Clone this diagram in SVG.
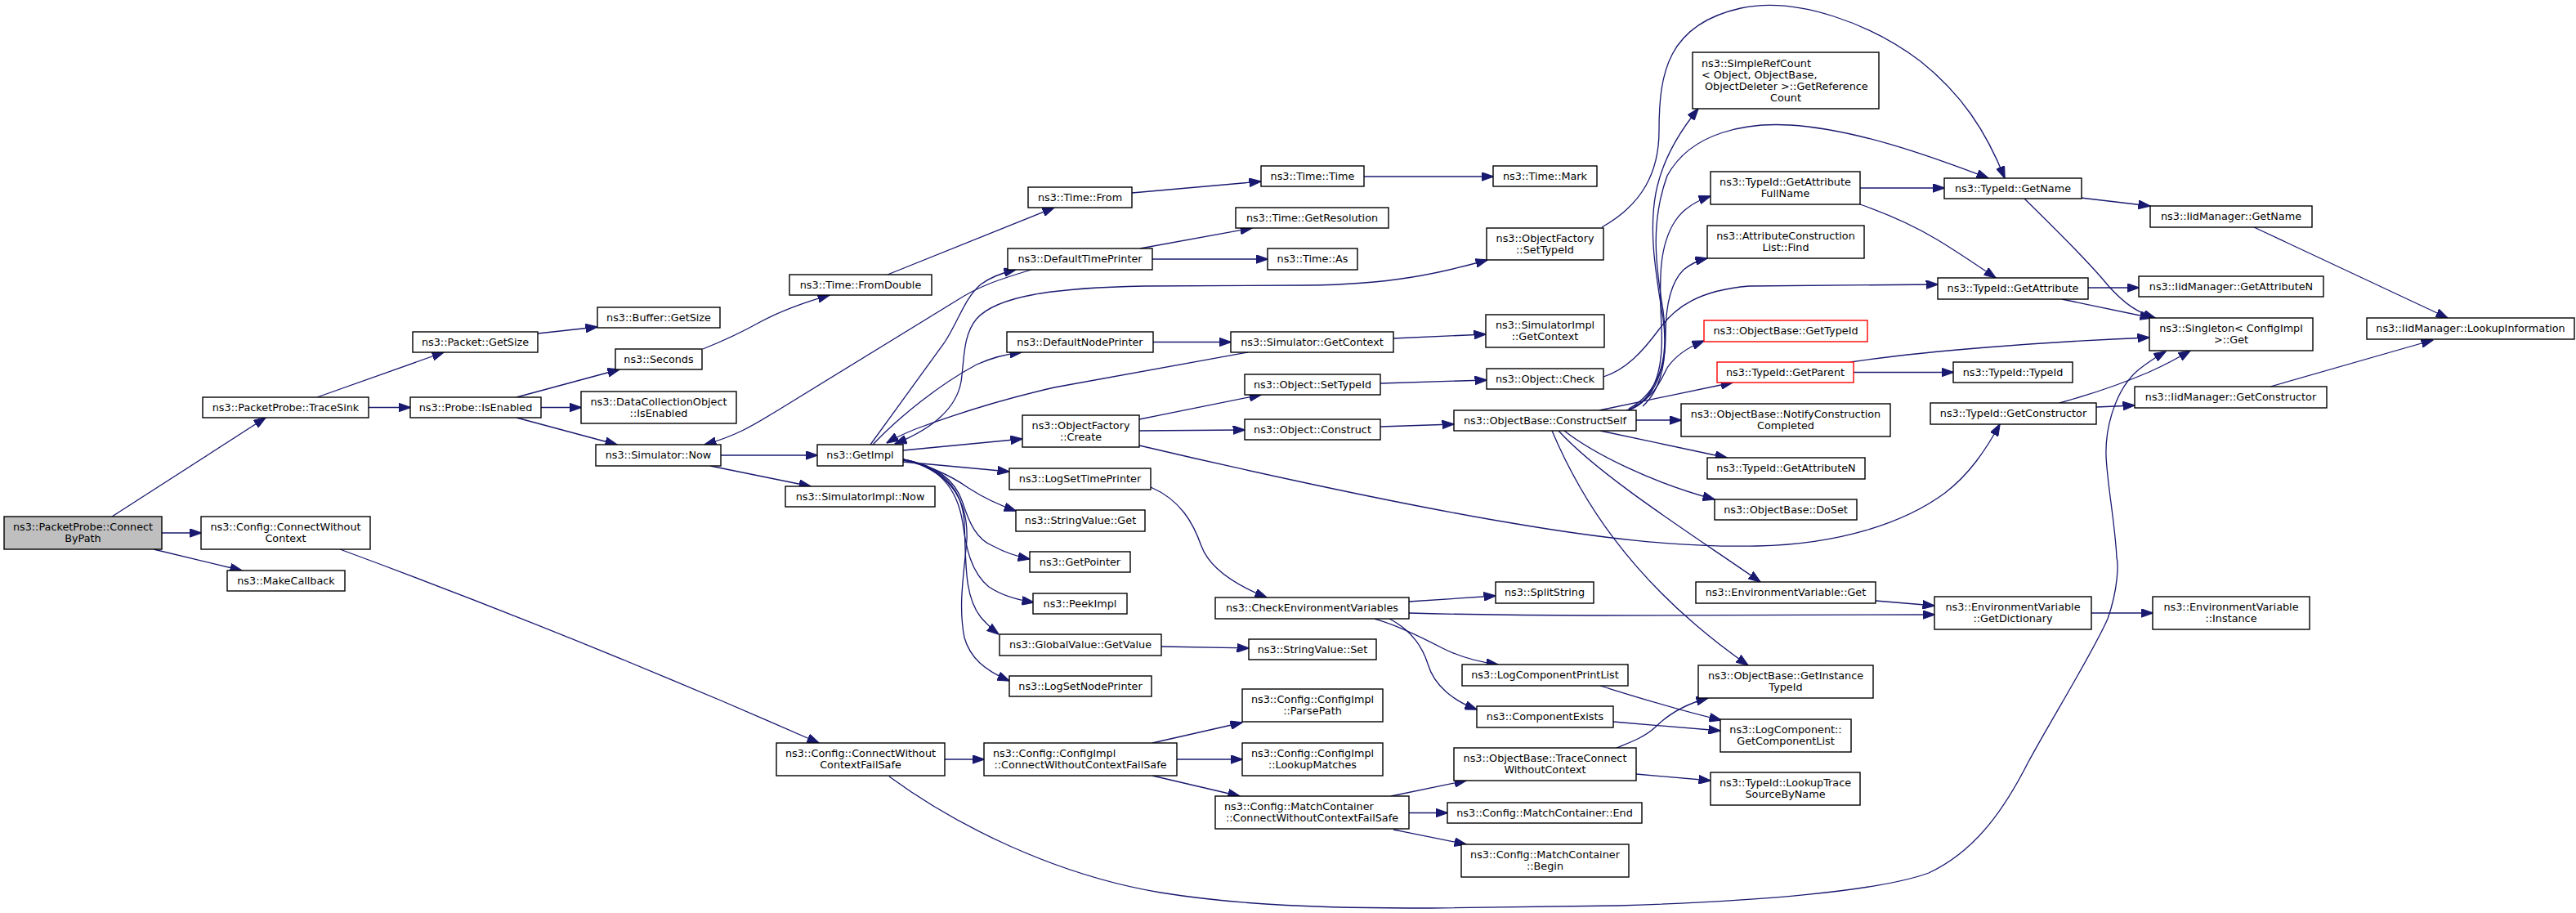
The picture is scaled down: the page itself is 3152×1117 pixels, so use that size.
<svg xmlns="http://www.w3.org/2000/svg" width="3152" height="1117" viewBox="0 0 3152 1117">
<style>
.node rect{fill:#fff;stroke:#000;stroke-width:1.4}
.root rect{fill:#bfbfbf}
.red rect{stroke:#ff0000}
text{font-family:"DejaVu Sans","Liberation Sans",sans-serif;font-size:12.8px;fill:#000;text-anchor:middle}
text.l{text-anchor:start}
.edges path{fill:none;stroke:#191970;stroke-width:1.3;marker-end:url(#arr)}
.edges path.both{marker-start:url(#arr)}
</style>
<defs>
<marker id="arr" markerUnits="userSpaceOnUse" markerWidth="15" markerHeight="11" viewBox="0 0 14 10" refX="13.5" refY="5" orient="auto-start-reverse">
<path d="M0,0 L14,5 L0,10 z" fill="#191970" stroke="#191970" stroke-width="1"/>
</marker>
</defs>
<rect width="3152" height="1117" fill="#fff"/>
<g class="edges">
<path d="M137,632 L325,511"/>
<path d="M198,652 L246,652"/>
<path d="M188,672 L296,698"/>
<path d="M388,486 L543,431"/>
<path d="M451,498.5 L502,498.5"/>
<path d="M658,408 L731,400"/>
<path d="M632,486 L758,452"/>
<path d="M662,498.5 L711,498.5"/>
<path d="M632,511 L755,544"/>
<path d="M860,427 C885,417 905,408 930,394 C950,383 980,371 1015,361"/>
<path d="M1086,336 L1290,254"/>
<path d="M1385,236 L1543,222"/>
<path d="M1669,216 L1827,216"/>
<path d="M882,557 L1000,557"/>
<path d="M869,570 L992,595"/>
<path d="M1065,544 L1155,420 C1172,395 1180,365 1200,348 C1212,339 1225,334 1243,330"/>
<path d="M1262,330 C1215,344 1195,352 1170,368 L955,500 C925,518 905,532 862,544"/>
<path d="M1395,304 L1532,279"/>
<path d="M1410,317 L1551,317"/>
<path d="M1068,544 C1100,510 1150,470 1195,446 C1215,437 1232,433 1250,431"/>
<path d="M1411,418.5 L1506,418.5"/>
<path d="M1527,431 L1290,474 C1220,490 1160,510 1120,525 C1105,531 1095,536 1085,542"/>
<path d="M1705,414 L1818,409"/>
<path d="M1105,551 L1251,537"/>
<path d="M1394,513 L1543,483"/>
<path d="M1394,527 L1523,526"/>
<path d="M1394,545 C1500,570 1700,615 1850,640 C1950,657 2050,670 2150,668 C2250,666 2330,640 2380,603 C2410,580 2430,550 2447,519"/>
<path class="both" d="M1095,543 C1140,525 1170,500 1176,467 C1180,440 1178,410 1195,390 C1220,362 1290,352 1400,350 L1600,349 C1700,348 1760,335 1820,318"/>
<path d="M1689,469 L1819,465"/>
<path d="M1962,461 C1990,452 2010,430 2030,403 C2050,375 2080,355 2140,350 L2371,348"/>
<path d="M1960,278 C2010,250 2030,210 2030,160 C2030,90 2040,30 2130,10 C2200,-5 2290,30 2350,75 C2400,115 2430,160 2453,218"/>
<path d="M2010,497 C2040,470 2040,420 2035,380 C2025,320 2020,270 2040,215 C2070,160 2140,150 2190,153 C2270,158 2360,190 2433,218"/>
<path d="M1990,502 C2030,490 2035,440 2033,400 C2030,340 2030,300 2050,270 C2060,255 2075,246 2093,240"/>
<path d="M1993,502 C2025,490 2038,450 2038,410 C2038,370 2045,345 2060,330 C2070,322 2080,318 2089,316"/>
<path d="M1993,500 C2030,480 2042,440 2035,390 C2025,330 2015,270 2030,220 C2040,185 2060,155 2078,133"/>
<path d="M2000,497 C2025,485 2032,465 2040,450 C2050,435 2065,425 2085,417"/>
<path d="M1957,502 L2120,468"/>
<path d="M2002,514 L2057,514"/>
<path d="M1958,527 L2113,560"/>
<path d="M1914,527 C1950,555 2020,590 2098,611"/>
<path d="M1907,527 C1960,585 2080,660 2154,712"/>
<path d="M1899,527 C1930,600 1990,710 2139,814"/>
<path d="M1689,522 L1779,519"/>
<path d="M2276,230 L2379,230"/>
<path d="M2276,250 C2310,262 2340,275 2370,293 C2395,308 2420,325 2442,340"/>
<path d="M2546,242 L2631,252"/>
<path d="M2477,243 C2520,285 2560,325 2580,350 C2600,372 2615,382 2637,389"/>
<path d="M2555,352 L2617,352"/>
<path d="M2523,366 L2633,389"/>
<path d="M2264,443 C2350,430 2500,418 2630,413"/>
<path d="M2268,455.5 L2390,455.5"/>
<path d="M2565,498 L2612,496"/>
<path d="M2520,493 C2560,482 2600,468 2630,455 C2650,446 2665,438 2680,429"/>
<path d="M1088,950 C1170,1010 1290,1070 1420,1092 C1520,1108 1620,1111 1750,1111 L1980,1108 C2150,1103 2300,1090 2360,1068 C2420,1040 2455,985 2482,932 C2510,880 2560,800 2579,757 C2592,720 2592,690 2590,682 C2588,640 2578,590 2577,557 C2576,520 2590,475 2616,453 C2628,443 2638,437 2650,430"/>
<path d="M2758,278 L2995,389"/>
<path d="M2778,473 L2977,416"/>
<path d="M1105,565 L1235,577"/>
<path d="M1105,563 C1140,570 1165,583 1185,597 C1205,610 1220,617 1243,625"/>
<path d="M1105,562 C1150,570 1170,590 1178,615 C1186,640 1195,660 1215,668 C1230,676 1245,681 1260,684"/>
<path d="M1105,562 C1150,570 1172,600 1178,640 C1182,670 1188,700 1210,718 C1225,728 1245,734 1265,737"/>
<path d="M1105,562 C1155,572 1178,600 1180,640 C1182,690 1180,730 1200,755 C1207,763 1214,770 1222,776"/>
<path d="M1105,562 C1160,575 1185,610 1183,660 C1180,700 1172,740 1180,780 C1187,805 1205,820 1235,833"/>
<path d="M1408,596 C1445,612 1460,640 1470,668 C1480,695 1510,715 1550,731"/>
<path d="M1421,791 L1528,793"/>
<path d="M1724,736 L1830,729"/>
<path d="M1724,750 C1800,752 1850,753 1950,753 L2367,752"/>
<path d="M1682,757 C1710,765 1740,780 1765,793 C1785,803 1810,810 1833,813"/>
<path d="M1700,757 C1725,770 1740,790 1747,812 C1755,840 1780,858 1807,868"/>
<path d="M2295,735 L2367,741"/>
<path d="M2559,750 L2634,750"/>
<path d="M1958,839 C2000,852 2050,868 2106,881"/>
<path d="M1974,883 L2105,894"/>
<path d="M416,672 C600,740 800,820 1002,909"/>
<path d="M1156,929 L1204,929"/>
<path d="M1410,909 L1520,884"/>
<path d="M1440,929 L1520,929"/>
<path d="M1410,949 L1517,974"/>
<path d="M1702,974 L1794,955"/>
<path d="M1724,994.5 L1771,994.5"/>
<path d="M1705,1015 L1794,1033"/>
<path d="M1978,915 C1995,908 2012,902 2025,890 C2040,875 2060,862 2090,854"/>
<path d="M2002,947 L2093,955"/>
</g>
<g id="n0" class="node root"><rect x="5" y="632" width="193" height="40"/><text x="101.5" y="649">ns3::PacketProbe::Connect</text><text x="101.5" y="663">ByPath</text></g>
<g id="n1" class="node"><rect x="248" y="486" width="203" height="25"/><text x="349.5" y="502.5">ns3::PacketProbe::TraceSink</text></g>
<g id="n2" class="node"><rect x="246" y="632" width="207" height="40"/><text x="349.5" y="649">ns3::Config::ConnectWithout</text><text x="349.5" y="663">Context</text></g>
<g id="n3" class="node"><rect x="278" y="698" width="144" height="25"/><text x="350" y="714.5">ns3::MakeCallback</text></g>
<g id="n4" class="node"><rect x="505" y="406" width="153" height="25"/><text x="581.5" y="422.5">ns3::Packet::GetSize</text></g>
<g id="n5" class="node"><rect x="502" y="486" width="160" height="25"/><text x="582" y="502.5">ns3::Probe::IsEnabled</text></g>
<g id="n6" class="node"><rect x="731" y="376" width="150" height="25"/><text x="806" y="392.5">ns3::Buffer::GetSize</text></g>
<g id="n7" class="node"><rect x="753" y="427" width="106" height="25"/><text x="806" y="443.5">ns3::Seconds</text></g>
<g id="n8" class="node"><rect x="711" y="479" width="190" height="39"/><text x="806" y="495.5">ns3::DataCollectionObject</text><text x="806" y="509.5">::IsEnabled</text></g>
<g id="n9" class="node"><rect x="729" y="544" width="153" height="26"/><text x="805.5" y="561">ns3::Simulator::Now</text></g>
<g id="n10" class="node"><rect x="966" y="336" width="174" height="25"/><text x="1053" y="352.5">ns3::Time::FromDouble</text></g>
<g id="n11" class="node"><rect x="1000" y="544" width="105" height="26"/><text x="1052.5" y="561">ns3::GetImpl</text></g>
<g id="n12" class="node"><rect x="961" y="595" width="183" height="25"/><text x="1052.5" y="611.5">ns3::SimulatorImpl::Now</text></g>
<g id="n13" class="node"><rect x="950" y="909" width="206" height="40"/><text x="1053" y="926">ns3::Config::ConnectWithout</text><text x="1053" y="940">ContextFailSafe</text></g>
<g id="n14" class="node"><rect x="1258" y="229" width="127" height="25"/><text x="1321.5" y="245.5">ns3::Time::From</text></g>
<g id="n15" class="node"><rect x="1233" y="304" width="177" height="26"/><text x="1321.5" y="321">ns3::DefaultTimePrinter</text></g>
<g id="n16" class="node"><rect x="1232" y="406" width="179" height="25"/><text x="1321.5" y="422.5">ns3::DefaultNodePrinter</text></g>
<g id="n17" class="node"><rect x="1251" y="508" width="143" height="39"/><text x="1322.5" y="524.5">ns3::ObjectFactory</text><text x="1322.5" y="538.5">::Create</text></g>
<g id="n18" class="node"><rect x="1235" y="573" width="173" height="26"/><text x="1321.5" y="590">ns3::LogSetTimePrinter</text></g>
<g id="n19" class="node"><rect x="1243" y="624" width="158" height="26"/><text x="1322" y="641">ns3::StringValue::Get</text></g>
<g id="n20" class="node"><rect x="1260" y="675" width="123" height="25"/><text x="1321.5" y="691.5">ns3::GetPointer</text></g>
<g id="n21" class="node"><rect x="1264" y="726" width="115" height="25"/><text x="1321.5" y="742.5">ns3::PeekImpl</text></g>
<g id="n22" class="node"><rect x="1223" y="776" width="198" height="26"/><text x="1322" y="793">ns3::GlobalValue::GetValue</text></g>
<g id="n23" class="node"><rect x="1235" y="827" width="174" height="25"/><text x="1322" y="843.5">ns3::LogSetNodePrinter</text></g>
<g id="n24" class="node"><rect x="1204" y="909" width="236" height="40"/><text class="l" x="1215" y="926">ns3::Config::ConfigImpl</text><text x="1322" y="940">::ConnectWithoutContextFailSafe</text></g>
<g id="n25" class="node"><rect x="1543" y="203" width="126" height="25"/><text x="1606" y="219.5">ns3::Time::Time</text></g>
<g id="n26" class="node"><rect x="1512" y="254" width="187" height="25"/><text x="1605.5" y="270.5">ns3::Time::GetResolution</text></g>
<g id="n27" class="node"><rect x="1551" y="304" width="110" height="26"/><text x="1606" y="321">ns3::Time::As</text></g>
<g id="n28" class="node"><rect x="1506" y="406" width="199" height="25"/><text x="1605.5" y="422.5">ns3::Simulator::GetContext</text></g>
<g id="n29" class="node"><rect x="1523" y="458" width="166" height="25"/><text x="1606" y="474.5">ns3::Object::SetTypeId</text></g>
<g id="n30" class="node"><rect x="1523" y="513" width="166" height="25"/><text x="1606" y="529.5">ns3::Object::Construct</text></g>
<g id="n31" class="node"><rect x="1487" y="731" width="237" height="26"/><text x="1605.5" y="748">ns3::CheckEnvironmentVariables</text></g>
<g id="n32" class="node"><rect x="1528" y="782" width="156" height="25"/><text x="1606" y="798.5">ns3::StringValue::Set</text></g>
<g id="n33" class="node"><rect x="1520" y="843" width="172" height="40"/><text x="1606" y="860">ns3::Config::ConfigImpl</text><text x="1606" y="874">::ParsePath</text></g>
<g id="n34" class="node"><rect x="1520" y="909" width="172" height="40"/><text x="1606" y="926">ns3::Config::ConfigImpl</text><text x="1606" y="940">::LookupMatches</text></g>
<g id="n35" class="node"><rect x="1487" y="974" width="237" height="40"/><text class="l" x="1498" y="991">ns3::Config::MatchContainer</text><text x="1605.5" y="1005">::ConnectWithoutContextFailSafe</text></g>
<g id="n36" class="node"><rect x="1827" y="203" width="127" height="25"/><text x="1890.5" y="219.5">ns3::Time::Mark</text></g>
<g id="n37" class="node"><rect x="1819" y="279" width="143" height="39"/><text x="1890.5" y="295.5">ns3::ObjectFactory</text><text x="1890.5" y="309.5">::SetTypeId</text></g>
<g id="n38" class="node"><rect x="1818" y="385" width="145" height="40"/><text x="1890.5" y="402">ns3::SimulatorImpl</text><text x="1890.5" y="416">::GetContext</text></g>
<g id="n39" class="node"><rect x="1819" y="451" width="143" height="25"/><text x="1890.5" y="467.5">ns3::Object::Check</text></g>
<g id="n40" class="node"><rect x="1779" y="502" width="223" height="25"/><text x="1890.5" y="518.5">ns3::ObjectBase::ConstructSelf</text></g>
<g id="n41" class="node"><rect x="1830" y="712" width="120" height="26"/><text x="1890" y="729">ns3::SplitString</text></g>
<g id="n42" class="node"><rect x="1789" y="813" width="203" height="26"/><text x="1890.5" y="830">ns3::LogComponentPrintList</text></g>
<g id="n43" class="node"><rect x="1807" y="864" width="167" height="26"/><text x="1890.5" y="881">ns3::ComponentExists</text></g>
<g id="n44" class="node"><rect x="1779" y="915" width="223" height="40"/><text x="1890.5" y="932">ns3::ObjectBase::TraceConnect</text><text x="1890.5" y="946">WithoutContext</text></g>
<g id="n45" class="node"><rect x="1771" y="982" width="238" height="25"/><text x="1890" y="998.5">ns3::Config::MatchContainer::End</text></g>
<g id="n46" class="node"><rect x="1788" y="1033" width="205" height="40"/><text x="1890.5" y="1050">ns3::Config::MatchContainer</text><text x="1890.5" y="1064">::Begin</text></g>
<g id="n47" class="node"><rect x="2071" y="64" width="228" height="69"/><text class="l" x="2082" y="81.5">ns3::SimpleRefCount</text><text class="l" x="2082" y="95.5">&lt; Object, ObjectBase,</text><text class="l" x="2086" y="109.5">ObjectDeleter &gt;::GetReference</text><text x="2185" y="123.5">Count</text></g>
<g id="n48" class="node"><rect x="2093" y="210" width="183" height="40"/><text x="2184.5" y="227">ns3::TypeId::GetAttribute</text><text x="2184.5" y="241">FullName</text></g>
<g id="n49" class="node"><rect x="2089" y="276" width="192" height="40"/><text x="2185" y="293">ns3::AttributeConstruction</text><text x="2185" y="307">List::Find</text></g>
<g id="n50" class="node red"><rect x="2085" y="392" width="200" height="26"/><text x="2185" y="409">ns3::ObjectBase::GetTypeId</text></g>
<g id="n51" class="node red"><rect x="2101" y="443" width="167" height="25"/><text x="2184.5" y="459.5">ns3::TypeId::GetParent</text></g>
<g id="n52" class="node"><rect x="2057" y="494" width="256" height="40"/><text x="2185" y="511">ns3::ObjectBase::NotifyConstruction</text><text x="2185" y="525">Completed</text></g>
<g id="n53" class="node"><rect x="2089" y="560" width="193" height="26"/><text x="2185.5" y="577">ns3::TypeId::GetAttributeN</text></g>
<g id="n54" class="node"><rect x="2098" y="611" width="174" height="25"/><text x="2185" y="627.5">ns3::ObjectBase::DoSet</text></g>
<g id="n55" class="node"><rect x="2075" y="712" width="220" height="26"/><text x="2185" y="729">ns3::EnvironmentVariable::Get</text></g>
<g id="n56" class="node"><rect x="2078" y="814" width="214" height="40"/><text x="2185" y="831">ns3::ObjectBase::GetInstance</text><text x="2185" y="845">TypeId</text></g>
<g id="n57" class="node"><rect x="2105" y="880" width="160" height="40"/><text x="2185" y="897">ns3::LogComponent::</text><text x="2185" y="911">GetComponentList</text></g>
<g id="n58" class="node"><rect x="2093" y="945" width="183" height="40"/><text x="2184.5" y="962">ns3::TypeId::LookupTrace</text><text x="2184.5" y="976">SourceByName</text></g>
<g id="n59" class="node"><rect x="2379" y="218" width="168" height="25"/><text x="2463" y="234.5">ns3::TypeId::GetName</text></g>
<g id="n60" class="node"><rect x="2371" y="340" width="184" height="26"/><text x="2463" y="357">ns3::TypeId::GetAttribute</text></g>
<g id="n61" class="node"><rect x="2390" y="443" width="146" height="25"/><text x="2463" y="459.5">ns3::TypeId::TypeId</text></g>
<g id="n62" class="node"><rect x="2362" y="493" width="203" height="26"/><text x="2463.5" y="510">ns3::TypeId::GetConstructor</text></g>
<g id="n63" class="node"><rect x="2367" y="730" width="192" height="40"/><text x="2463" y="747">ns3::EnvironmentVariable</text><text x="2463" y="761">::GetDictionary</text></g>
<g id="n64" class="node"><rect x="2631" y="252" width="198" height="26"/><text x="2730" y="269">ns3::IidManager::GetName</text></g>
<g id="n65" class="node"><rect x="2617" y="338" width="226" height="25"/><text x="2730" y="354.5">ns3::IidManager::GetAttributeN</text></g>
<g id="n66" class="node"><rect x="2630" y="389" width="200" height="40"/><text x="2730" y="406">ns3::Singleton&lt; ConfigImpl</text><text x="2730" y="420">&gt;::Get</text></g>
<g id="n67" class="node"><rect x="2612" y="473" width="235" height="26"/><text x="2729.5" y="490">ns3::IidManager::GetConstructor</text></g>
<g id="n68" class="node"><rect x="2634" y="730" width="192" height="40"/><text x="2730" y="747">ns3::EnvironmentVariable</text><text x="2730" y="761">::Instance</text></g>
<g id="n69" class="node"><rect x="2896" y="389" width="254" height="26"/><text x="3023" y="406">ns3::IidManager::LookupInformation</text></g>
</svg>
